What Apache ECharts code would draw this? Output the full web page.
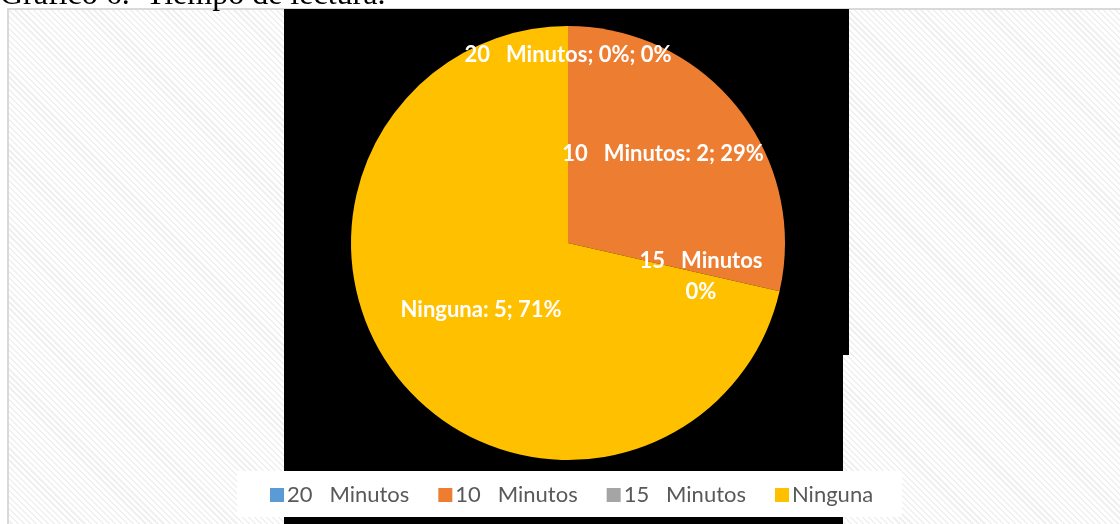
<!DOCTYPE html>
<html>
<head>
<meta charset="utf-8">
<script src="https://cdn.jsdelivr.net/npm/echarts@6/dist/echarts.min.js"></script>
<style>
  html, body { margin: 0; padding: 0; background: #fff; }
  #wrap { position: relative; width: 1120px; height: 524px; overflow: hidden; background: #fff; }
  #hatch { position: absolute; left: 7px; top: 8px; width: 1200px; height: 600px;
    border-left: 2px solid #d9d9d9; border-top: 2px solid #d9d9d9;
    background: repeating-linear-gradient(45deg, #ffffff 0px, #ffffff 2px, #f0f0f0 2px, #f0f0f0 3.6px, #ffffff 3.6px, #ffffff 4.3px); }
  #chart { position: absolute; left: 0; top: 0; width: 1120px; height: 524px; }
</style>
</head>
<body>
<div id="wrap">
  <div id="hatch"></div>
  <div id="chart"></div>
</div>
<script>
// ---- data ----
const categories = ['20   Minutos', '10   Minutos', '15   Minutos', 'Ninguna'];
const values = [0, 2, 0, 5];
const labelTexts = ['20   Minutos; 0%; 0%', '10   Minutos: 2; 29%', '15   Minutos\n0%', 'Ninguna: 5; 71%'];
const colors = ['#5B9BD5', '#ED7D31', '#A5A5A5', '#FFC000'];
const titleText = 'Gráfico 6.  Tiempo de lectura.';

// ---- layout (styling only) ----
const center = [568, 243];
const radius = 217;
const labelOffsets = [[0, -188], [95, -89], [133, 33], [-87, 67]];

const chart = echarts.init(document.getElementById('chart'), null, { renderer: 'canvas' });
chart.setOption({
  backgroundColor: 'transparent',
  animation: false,
  color: colors,
  graphic: [
    { type: 'text', left: 0, top: -20, z: 10,
      style: { text: titleText, font: '32px "Liberation Serif"', fill: '#000' } },
    { type: 'rect', shape: { x: 284, y: 9, width: 565, height: 346 }, style: { fill: '#000' }, z: -10 },
    { type: 'rect', shape: { x: 284, y: 355, width: 559, height: 169 }, style: { fill: '#000' }, z: -10 },
    { type: 'rect', shape: { x: 237, y: 471, width: 665, height: 46 }, style: { fill: '#fff' }, z: -9 }
  ],
  legend: {
    data: categories,
    left: 265,
    top: 479,
    itemWidth: 14,
    itemHeight: 14,
    itemGap: 29,
    icon: 'rect',
    textStyle: { fontFamily: 'Lato', fontSize: 22, color: '#595959', padding: [0, 0, 0, -2] }
  },
  series: [{
    type: 'pie',
    center: center,
    radius: radius,
    startAngle: 90,
    clockwise: true,
    minShowLabelAngle: -1,
    stillShowZeroSum: true,
    data: categories.map((c, i) => ({ name: c, value: values[i] })),
    itemStyle: { borderWidth: 0 },
    label: {
      show: true,
      position: 'inside',
      color: '#fff',
      fontFamily: 'Lato',
      fontWeight: 'bold',
      fontSize: 22,
      lineHeight: 31,
      align: 'center',
      formatter: p => labelTexts[p.dataIndex]
    },
    labelLine: { show: false },
    labelLayout: p => ({
      x: center[0] + labelOffsets[p.dataIndex][0],
      y: center[1] + labelOffsets[p.dataIndex][1],
      align: 'center',
      verticalAlign: 'middle'
    }),
    emphasis: { disabled: true }
  }]
});
</script>
</body>
</html>
